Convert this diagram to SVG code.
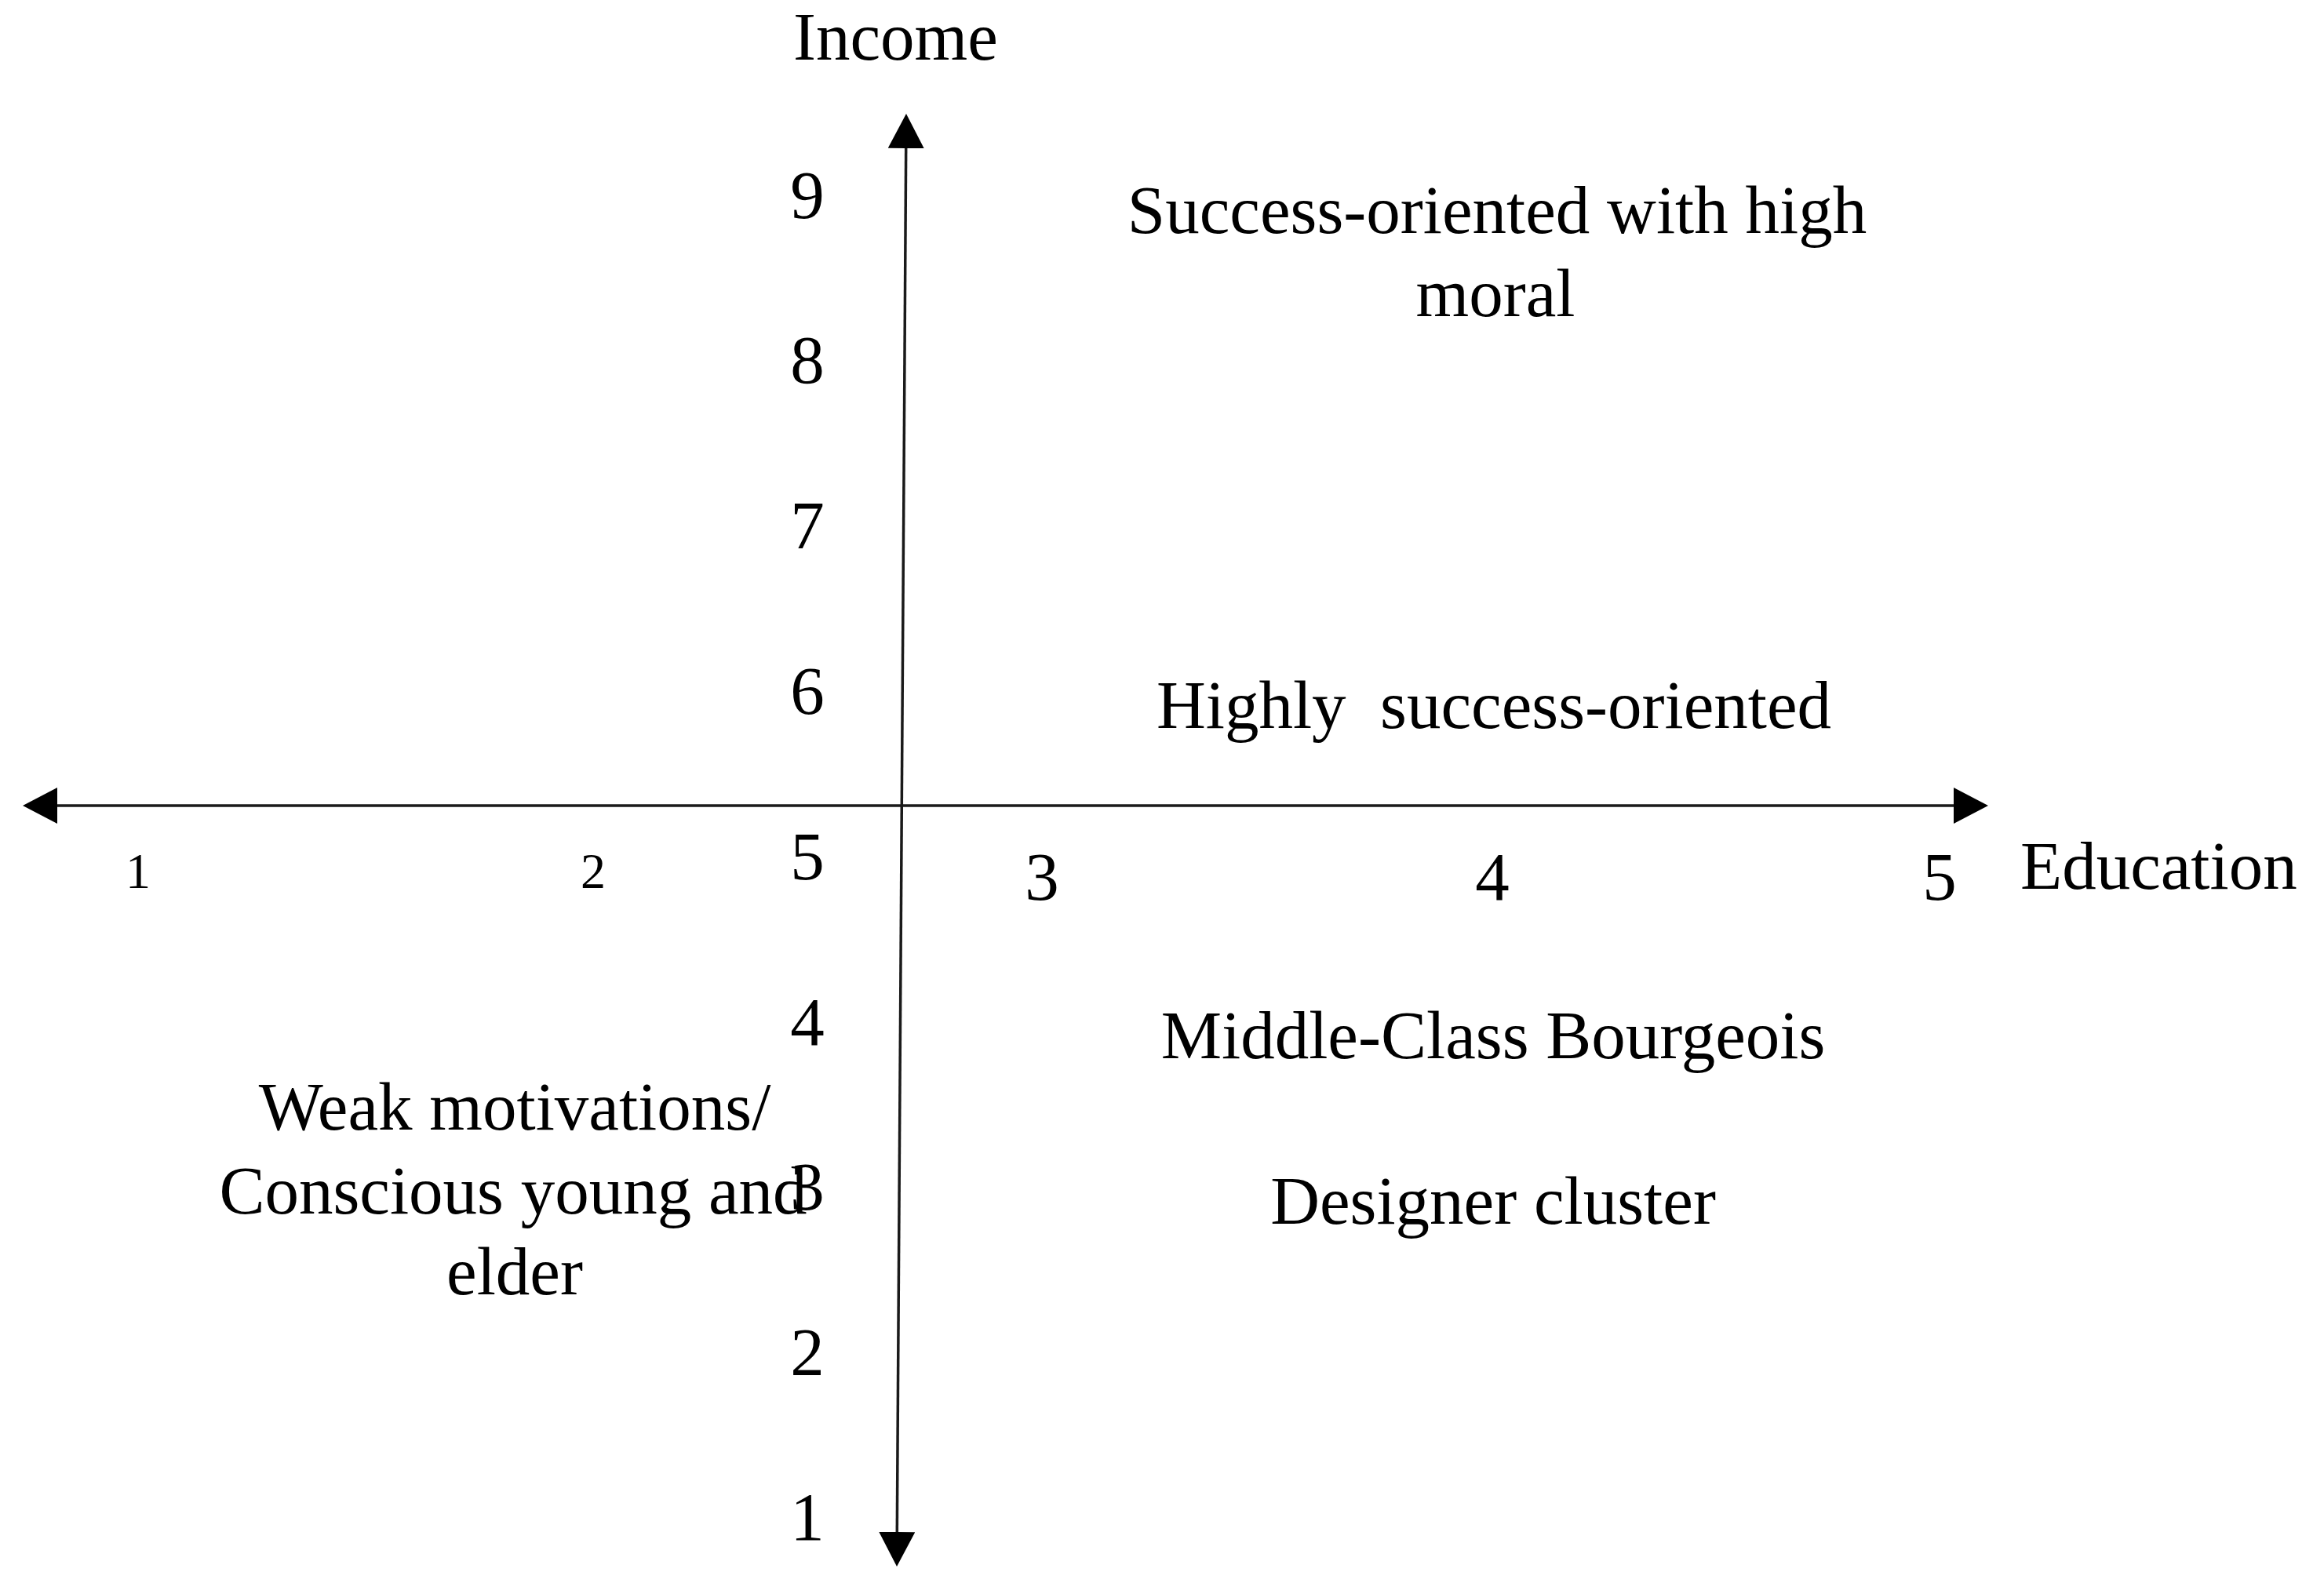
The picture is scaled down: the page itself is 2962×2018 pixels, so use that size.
<svg xmlns="http://www.w3.org/2000/svg" width="2962" height="2018" viewBox="0 0 2962 2018">
  <style>
    .t { font-family: "Liberation Serif", "Times New Roman", serif; font-size: 87px; fill: #000; }
    .s { font-size: 64px; }
    .m { text-anchor: middle; }
    .axis { stroke: #1a1a1a; stroke-width: 3.5; fill: none; }
  </style>
  <defs>
    <marker id="ah" markerUnits="userSpaceOnUse" markerWidth="46" markerHeight="48" refX="0" refY="23" orient="auto-start-reverse" viewBox="0 0 46 48">
      <path d="M0,0 L44,23 L0,46 Z" fill="#000"/>
    </marker>
  </defs>
  <rect width="2962" height="2018" fill="#fff"/>

  <g id="connectors">
    <line id="x-axis" class="axis" x1="73" y1="1027" x2="2490" y2="1027" marker-start="url(#ah)" marker-end="url(#ah)"/>
    <line id="y-axis" class="axis" x1="1154.7" y1="189" x2="1143.3" y2="1953" marker-start="url(#ah)" marker-end="url(#ah)"/>
  </g>

  <g id="label-income"><text class="t" x="1011" y="76">Income</text></g>
  <g id="label-education"><text class="t" x="2575" y="1133">Education</text></g>

  <g id="y-ticks" class="t m">
    <text x="1029" y="278">9</text>
    <text x="1029" y="488">8</text>
    <text x="1029" y="699">7</text>
    <text x="1029" y="910">6</text>
    <text x="1029" y="1121">5</text>
    <text x="1029" y="1332">4</text>
    <text x="1029" y="1542">3</text>
    <text x="1029" y="1753">2</text>
    <text x="1029" y="1963">1</text>
  </g>

  <g id="x-ticks">
    <text class="t s m" x="176" y="1132">1</text>
    <text class="t s m" x="756" y="1132">2</text>
    <text class="t m" x="1328" y="1147">3</text>
    <text class="t m" x="1902" y="1147">4</text>
    <text class="t m" x="2472" y="1147">5</text>
  </g>

  <g id="node-success-moral">
    <text class="t m" x="1908" y="297">Success-oriented with high</text>
    <text class="t m" x="1906" y="403">moral</text>
  </g>
  <g id="node-highly-success">
    <text class="t m" x="1904" y="928" xml:space="preserve">Highly  success-oriented</text>
  </g>
  <g id="node-middle-class">
    <text class="t m" x="1903" y="1349">Middle-Class Bourgeois</text>
  </g>
  <g id="node-designer">
    <text class="t m" x="1903" y="1560">Designer cluster</text>
  </g>
  <g id="node-weak">
    <text class="t m" x="656" y="1440">Weak motivations/</text>
    <text class="t m" x="654" y="1547">Conscious young and</text>
    <text class="t m" x="656" y="1650">elder</text>
  </g>
</svg>
